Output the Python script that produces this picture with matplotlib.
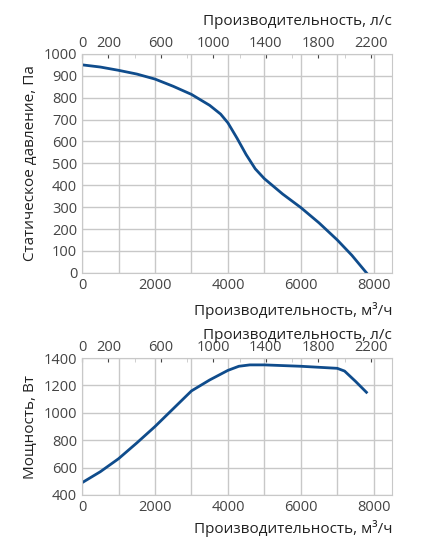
import matplotlib
matplotlib.use("Agg")
import matplotlib.pyplot as plt
import numpy as np

plt.rcParams['font.family'] = ['Open Sans', 'DejaVu Sans']

q1 = [0, 500, 1000, 1500, 2000, 2500, 3000, 3500, 3800, 4000, 4250, 4500, 4750, 5000, 5500, 6000, 6500, 7000, 7400, 7800]
p1 = [950, 940, 925, 908, 885, 852, 815, 765, 725, 685, 615, 540, 475, 430, 360, 298, 228, 150, 80, 0]
q2 = [0, 500, 1000, 1500, 2000, 2500, 3000, 3500, 4000, 4300, 4600, 5000, 6000, 6800, 7000, 7200, 7500, 7800]
p2 = [490, 570, 665, 780, 900, 1030, 1160, 1240, 1310, 1340, 1350, 1350, 1340, 1328, 1325, 1305, 1230, 1150]

ls_labels = [0, 200, 600, 1000, 1400, 1800, 2200]
col = '#0f4c8c'
tc = '#444444'

fig = plt.figure(figsize=(4.21, 5.5), dpi=100)

def setup(ax, ylim, yticks, ylabel, bpad, tpad):
    ax.set_xlim(0, 8500)
    ax.set_ylim(*ylim)
    ax.set_xticks(range(0, 9000, 1000))
    ax.set_xticklabels(['0', '', '2000', '', '4000', '', '6000', '', '8000'])
    ax.set_yticks(yticks)
    ax.grid(True, color='#c8c8c8', lw=1)
    ax.set_axisbelow(True)
    for s in ax.spines.values():
        s.set_color('#c8c8c8')
    ax.tick_params(colors=tc, labelsize=10.5, length=0)
    ax.set_ylabel(ylabel, color='#222', fontsize=11)
    ax.set_xlabel('Производительность, м³/ч', color='#222', fontsize=11, loc='right', labelpad=bpad)
    top = ax.secondary_xaxis('top', functions=(lambda x: x / 3.6, lambda x: x * 3.6))
    top.set_xticks(ls_labels)
    top.set_xticks(range(0, 2400, 200), minor=True)
    top.tick_params(colors=tc, labelsize=10.5, length=3, direction='in', pad=2)
    top.tick_params(which='minor', length=3, direction='in', color='#c8c8c8')
    top.spines['top'].set_visible(False)
    top.set_xlabel('Производительность, л/с', color='#222', fontsize=11, loc='right', labelpad=tpad)

ax1 = fig.add_axes([0.195, 0.504, 0.736, 0.398])
ax1.plot(q1, p1, color=col, lw=2)
setup(ax1, (0, 1000), range(0, 1100, 100), 'Статическое давление, Па', 7, 8)

ax2 = fig.add_axes([0.195, 0.1, 0.736, 0.249])
ax2.plot(q2, p2, color=col, lw=2)
setup(ax2, (400, 1400), range(400, 1500, 200), 'Мощность, Вт', 4, 1)

fig.savefig('out.png', dpi=100)
